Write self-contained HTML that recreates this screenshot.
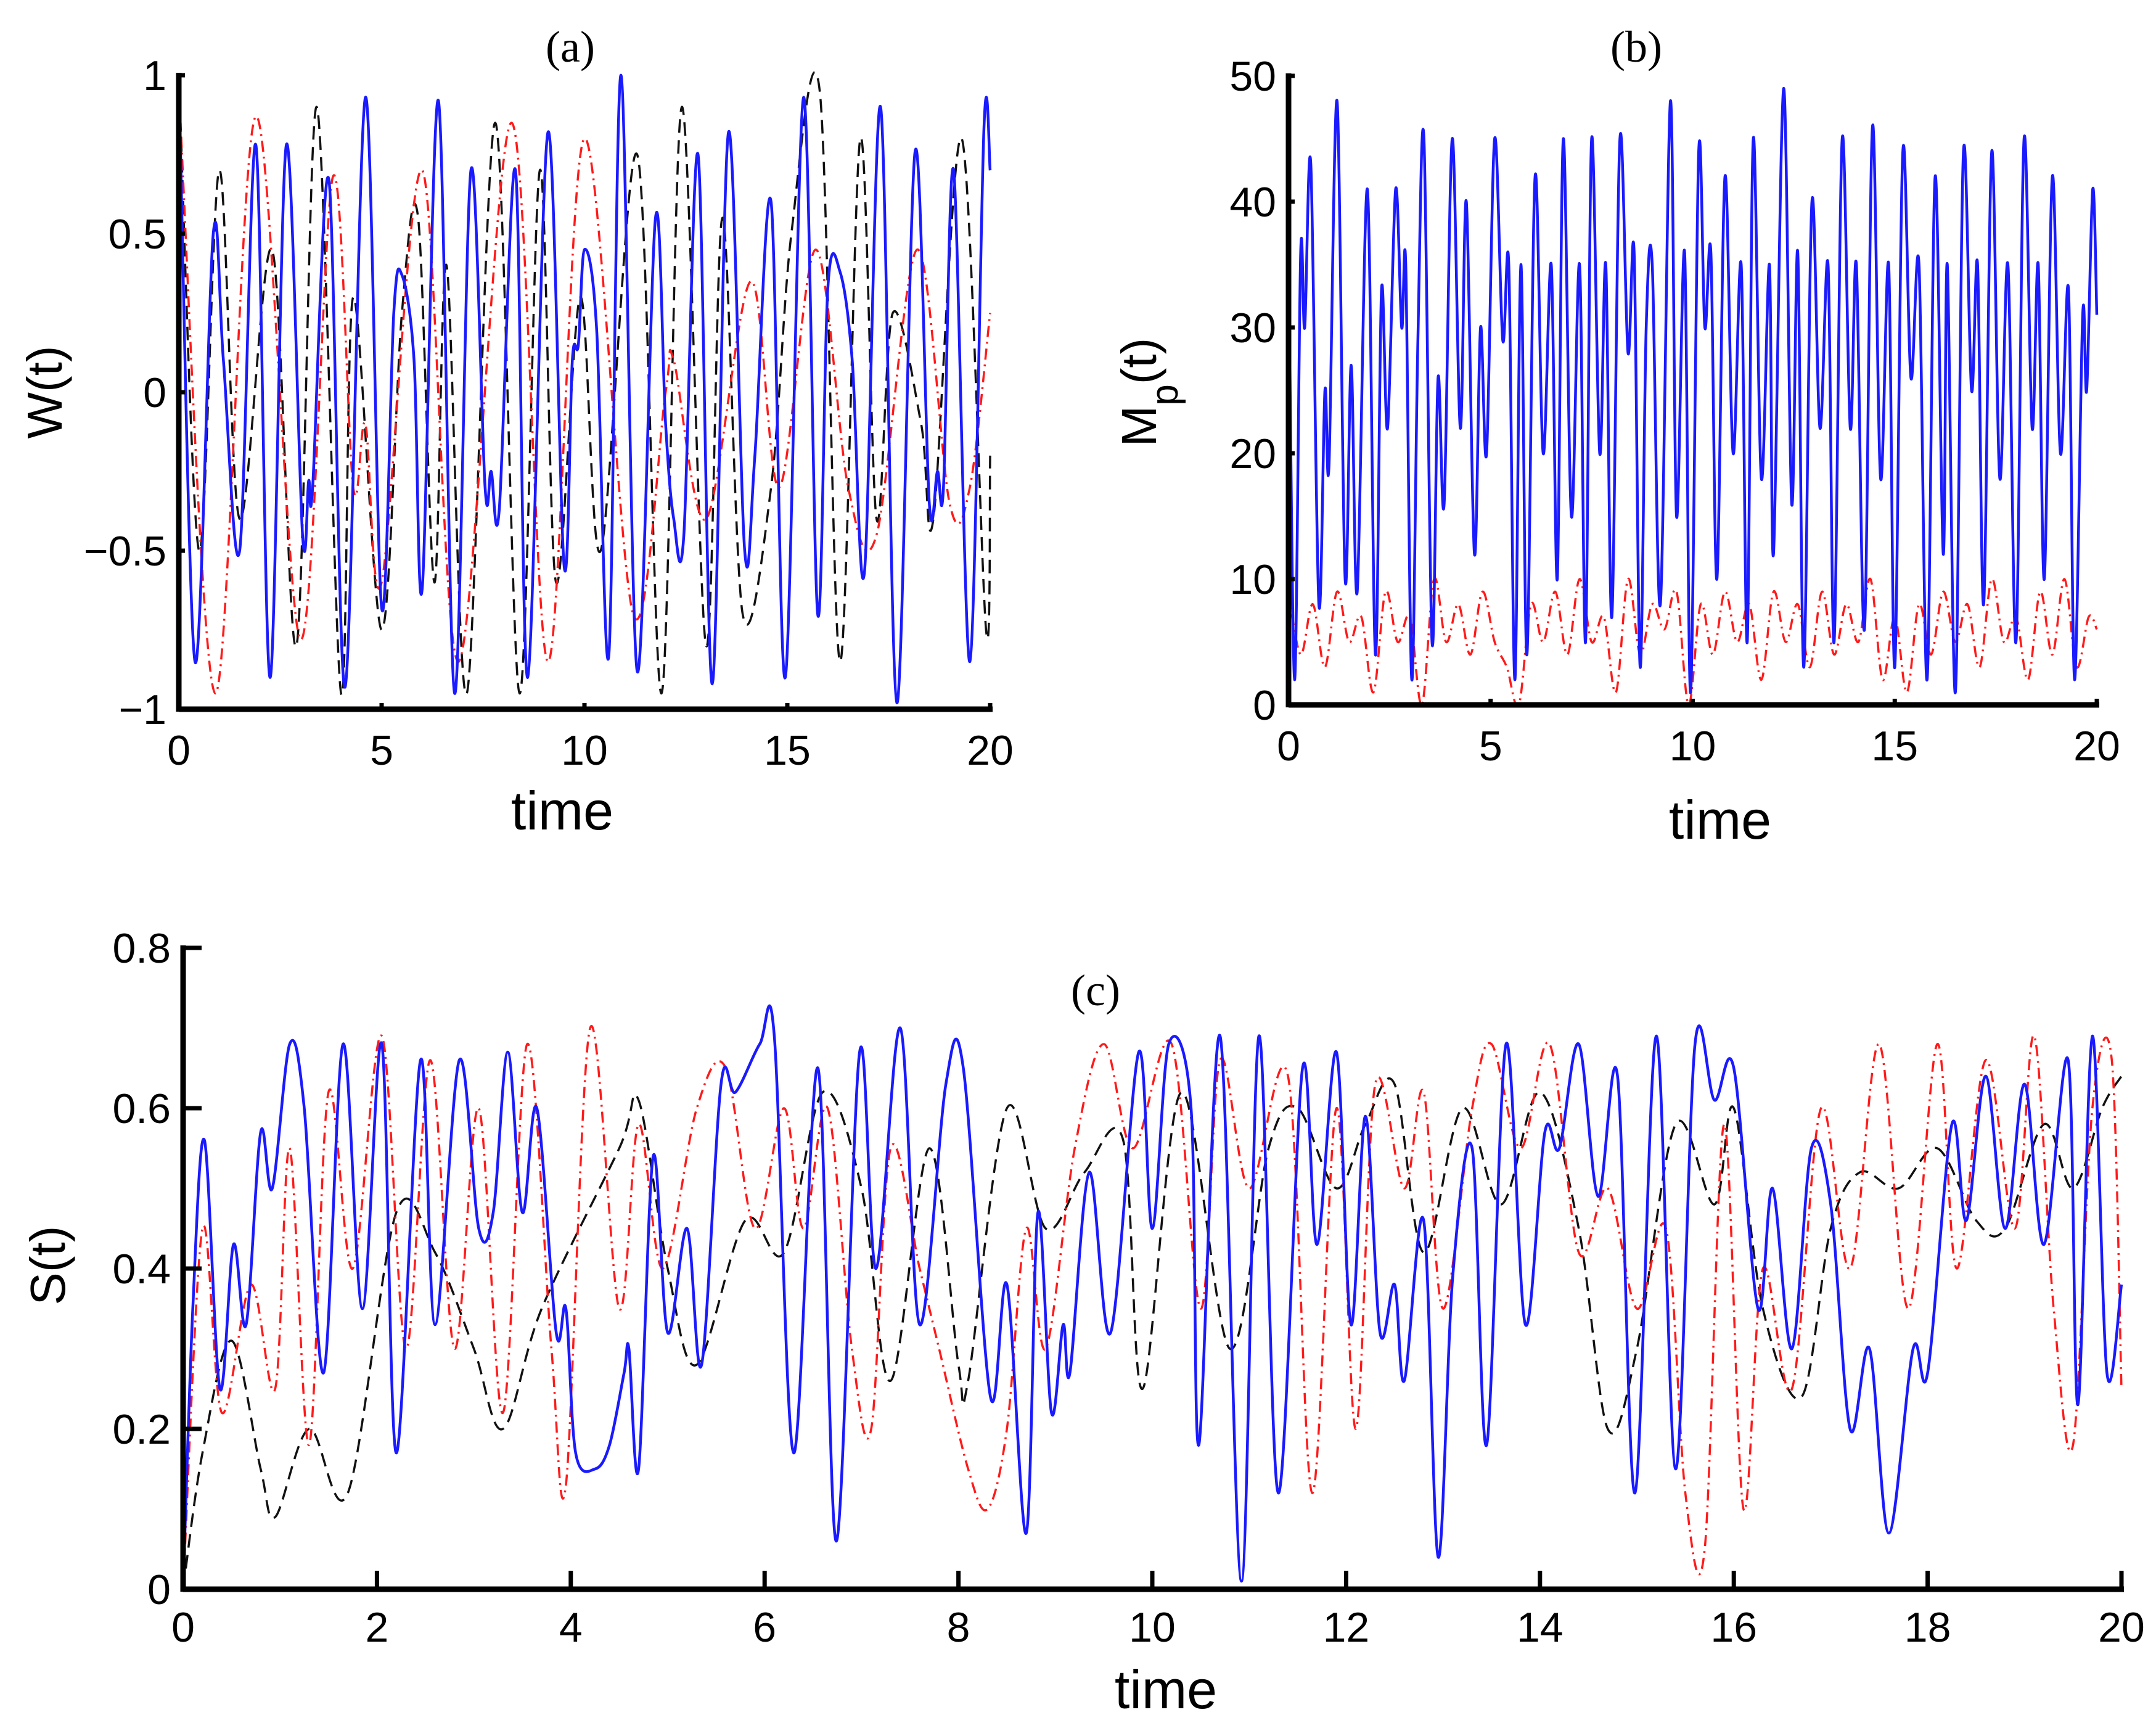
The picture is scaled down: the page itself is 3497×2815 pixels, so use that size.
<!DOCTYPE html>
<html><head><meta charset="utf-8"><style>
html,body{margin:0;padding:0;background:#fff;}
svg{display:block;}
text{font-family:"Liberation Sans",sans-serif;fill:#000;}
</style></head><body>
<svg id="fig" width="3497" height="2815" viewBox="0 0 3497 2815" xmlns="http://www.w3.org/2000/svg"></svg>
<script>
// ---------- Panel (a) data: W(t) ----------
const aBlueT=[0,0.4,0.85,1.1,1.5,1.9,2.25,2.65,3.05,3.2,3.3,3.7,4.1,4.6,5.0,5.3,5.5,5.8,6.0,6.4,6.8,7.2,7.55,7.7,7.9,8.3,8.6,9.1,9.5,9.7,9.85,10.0,10.3,10.6,10.9,11.3,11.75,12.0,12.2,12.45,12.8,13.15,13.55,13.95,14.2,14.6,14.95,15.4,15.75,16.0,16.3,16.6,16.9,17.3,17.7,18.15,18.5,18.7,18.85,19.1,19.5,19.85,20];
const aBlueV=[1.0,-0.85,0.5,0.1,-0.5,0.78,-0.9,0.78,-0.45,-0.28,-0.3,0.67,-0.93,0.93,-0.68,0.25,0.37,0.1,-0.62,0.92,-0.95,0.7,-0.3,-0.25,-0.37,0.7,-0.9,0.82,-0.55,0.1,0.15,0.45,0.2,-0.83,1.0,-0.88,0.55,-0.1,-0.4,-0.45,0.75,-0.92,0.82,-0.5,-0.2,0.6,-0.9,0.93,-0.7,0.33,0.38,0.1,-0.57,0.9,-0.98,0.76,-0.35,-0.25,-0.3,0.7,-0.85,0.84,0.7];
const aRedT=[0,0.9,1.9,3.0,3.8,4.3,4.6,5.0,6.0,6.9,8.2,9.1,10.0,11.2,12.0,12.2,13.0,14.1,14.8,15.7,16.5,17.2,18.2,19.0,19.5,20];
const aRedV=[0.95,-0.95,0.87,-0.78,0.68,-0.3,-0.1,-0.6,0.7,-0.85,0.85,-0.85,0.8,-0.7,0.0,0.1,-0.4,0.35,-0.3,0.45,-0.3,-0.45,0.45,-0.35,-0.3,0.25];
const aBlackT=[0,0.5,1.0,1.5,2.3,2.9,3.4,4.0,4.3,5.0,5.5,5.9,6.3,6.6,7.1,7.8,8.4,8.9,9.3,9.9,10.4,11.3,11.9,12.4,13.0,13.4,13.9,14.6,15.1,15.8,16.3,16.8,17.2,17.6,18.3,18.6,19.3,19.9,20];
const aBlackV=[1,-0.5,0.7,-0.4,0.45,-0.8,0.9,-0.95,0.3,-0.75,0.25,0.55,-0.6,0.4,-0.95,0.85,-0.95,0.7,-0.6,0.3,-0.5,0.75,-0.95,0.9,-0.8,0.55,-0.7,-0.3,0.5,0.95,-0.85,0.8,-0.4,0.25,-0.1,-0.4,0.8,-0.75,-0.2];
const aXTicks=[0,5,10,15,20];
const aYTicks=[-1,-0.5,0,0.5,1];
const aYTickLabels=["\u22121","\u22120.5","0","0.5","1"];

// ---------- Panel (b) data: Mp(t) ----------
const bBlueT=[0,0.15,0.3,0.4,0.55,0.75,0.9,1.0,1.2,1.4,1.55,1.7,1.95,2.15,2.3,2.45,2.65,2.8,2.9,3.05,3.2,3.35,3.55,3.7,3.85,4.05,4.25,4.4,4.6,4.75,4.9,5.1,5.3,5.45,5.6,5.75,5.9,6.1,6.3,6.5,6.65,6.8,7.0,7.2,7.35,7.5,7.7,7.85,8.0,8.2,8.4,8.55,8.7,8.85,9.0,9.2,9.45,9.6,9.8,9.95,10.15,10.3,10.45,10.6,10.8,11.0,11.2,11.35,11.5,11.7,11.9,12.0,12.25,12.45,12.6,12.75,12.95,13.15,13.35,13.5,13.7,13.9,14.05,14.25,14.45,14.65,14.85,15.0,15.2,15.4,15.6,15.8,16.0,16.2,16.3,16.5,16.7,16.9,17.05,17.2,17.4,17.6,17.8,18.0,18.2,18.4,18.55,18.7,18.9,19.1,19.3,19.45,19.65,19.75,19.9,20];
const bBlueV=[37,2,36,30,43,8,25,19,48,10,27,9,41,4,33,22,41,30,35,2,29,45,5,26,16,45,22,40,12,30,20,45,29,35,2,35,4,42,20,35,10,45,15,35,5,45,20,35,7,45,28,36,3,30,35,8,48,15,36,1,44,30,36,10,42,20,35,5,45,18,35,12,49,16,36,3,40,22,35,5,45,22,35,6,46,18,35,3,44,26,35,2,42,12,35,1,44,25,35,8,44,18,35,5,45,22,35,10,42,20,33,2,31,25,41,31];
const bRedT=[0,0.3,0.6,0.9,1.2,1.5,1.8,2.1,2.4,2.7,3.0,3.3,3.6,3.9,4.2,4.5,4.8,5.1,5.4,5.7,6.0,6.3,6.6,6.9,7.2,7.5,7.8,8.1,8.4,8.7,9.0,9.3,9.6,9.9,10.2,10.5,10.8,11.1,11.4,11.7,12.0,12.3,12.6,12.9,13.2,13.5,13.8,14.1,14.4,14.7,15.0,15.3,15.6,15.9,16.2,16.5,16.8,17.1,17.4,17.7,18.0,18.3,18.6,18.9,19.2,19.5,19.8,20];
const bRedV=[9,4,8,3,9,5,7,1,9,5,7,0,10,5,8,4,9,5,3,0,8,5,9,4,10,5,7,1,10,4,8,6,9,0,8,4,9,5,8,2,9,5,8,3,9,4,8,5,10,2,7,1,8,4,9,5,8,3,10,5,7,2,9,4,10,3,7,6];
const bXTicks=[0,5,10,15,20];
const bYTicks=[0,10,20,30,40,50];

// ---------- Panel (c) data: S(t) ----------
const cBlueT=[0,0.1,0.22,0.38,0.52,0.65,0.8,0.92,1.1,1.25,1.45,1.65,1.85,2.05,2.2,2.45,2.6,2.85,3.05,3.2,3.35,3.5,3.65,3.85,3.95,4.05,4.25,4.4,4.55,4.6,4.7,4.85,5.0,5.2,5.35,5.55,5.7,5.95,6.1,6.3,6.55,6.74,6.98,7.15,7.4,7.6,7.87,8.05,8.33,8.5,8.7,8.82,8.96,9.08,9.15,9.35,9.57,9.86,10.0,10.17,10.4,10.48,10.7,10.92,11.1,11.3,11.55,11.7,11.9,12.05,12.2,12.35,12.5,12.6,12.8,12.95,13.1,13.3,13.45,13.65,13.85,14.05,14.2,14.4,14.6,14.8,14.98,15.2,15.4,15.6,15.8,16.0,16.25,16.4,16.6,16.8,17.0,17.2,17.4,17.6,17.85,18.0,18.25,18.4,18.6,18.8,19.0,19.2,19.45,19.55,19.7,19.85,20];
const cBlueV=[0,0.35,0.56,0.25,0.43,0.33,0.57,0.5,0.68,0.6,0.27,0.68,0.35,0.68,0.17,0.66,0.33,0.66,0.45,0.47,0.67,0.47,0.6,0.32,0.35,0.17,0.15,0.18,0.27,0.3,0.15,0.54,0.32,0.45,0.28,0.63,0.62,0.68,0.69,0.17,0.65,0.06,0.67,0.4,0.7,0.33,0.63,0.65,0.24,0.38,0.07,0.47,0.22,0.33,0.27,0.52,0.32,0.67,0.45,0.68,0.6,0.18,0.69,0.01,0.69,0.12,0.65,0.43,0.67,0.33,0.59,0.32,0.38,0.26,0.46,0.04,0.39,0.55,0.18,0.68,0.33,0.57,0.55,0.68,0.49,0.64,0.12,0.69,0.15,0.68,0.61,0.65,0.35,0.5,0.3,0.55,0.48,0.2,0.3,0.07,0.3,0.27,0.58,0.46,0.64,0.45,0.63,0.43,0.66,0.23,0.69,0.27,0.38];
const cRedT=[0,0.2,0.4,0.7,0.95,1.1,1.3,1.5,1.75,2.05,2.3,2.55,2.8,3.05,3.3,3.55,3.8,3.95,4.2,4.5,4.7,4.95,5.3,5.6,5.9,6.2,6.4,6.65,6.9,7.1,7.3,7.6,7.8,8.1,8.3,8.5,8.7,8.9,9.2,9.5,9.8,10.2,10.5,10.7,11.0,11.4,11.65,11.9,12.1,12.3,12.6,12.8,13.0,13.3,13.5,13.8,14.1,14.4,14.7,15.0,15.3,15.5,15.7,15.9,16.1,16.3,16.6,16.9,17.2,17.5,17.8,18.1,18.3,18.6,18.9,19.1,19.3,19.5,19.7,19.9,20];
const cRedV=[0,0.45,0.22,0.38,0.25,0.55,0.18,0.62,0.4,0.69,0.3,0.66,0.3,0.6,0.22,0.68,0.3,0.13,0.7,0.35,0.58,0.4,0.6,0.65,0.45,0.6,0.45,0.6,0.3,0.2,0.55,0.4,0.3,0.15,0.1,0.2,0.45,0.3,0.55,0.68,0.55,0.68,0.35,0.66,0.5,0.64,0.12,0.6,0.2,0.63,0.5,0.62,0.35,0.6,0.68,0.55,0.68,0.42,0.5,0.35,0.45,0.12,0.05,0.58,0.1,0.4,0.25,0.6,0.4,0.68,0.35,0.68,0.4,0.66,0.45,0.69,0.35,0.18,0.6,0.66,0.25];
const cBlackT=[0,0.2,0.5,0.8,0.95,1.3,1.7,2.2,2.6,3.0,3.3,3.7,4.5,4.7,5.0,5.3,5.8,6.2,6.6,7.0,7.3,7.7,8.0,8.1,8.5,8.9,9.3,9.7,9.9,10.3,10.8,11.2,11.5,11.9,12.2,12.5,12.8,13.2,13.6,14.0,14.4,14.7,15.0,15.4,15.8,16.0,16.3,16.7,17.0,17.3,17.7,18.1,18.5,18.8,19.2,19.5,19.8,20];
const cBlackV=[0,0.17,0.31,0.15,0.09,0.2,0.12,0.47,0.42,0.3,0.2,0.35,0.55,0.61,0.4,0.28,0.46,0.42,0.62,0.5,0.26,0.55,0.28,0.26,0.6,0.45,0.52,0.56,0.25,0.62,0.3,0.55,0.6,0.5,0.58,0.63,0.42,0.6,0.48,0.62,0.45,0.2,0.3,0.58,0.48,0.6,0.35,0.24,0.45,0.52,0.5,0.55,0.46,0.45,0.58,0.5,0.6,0.64];
const cXTicks=[0,2,4,6,8,10,12,14,16,18,20];
const cYTicks=[0,0.2,0.4,0.6,0.8];

const NS="http://www.w3.org/2000/svg";
const svg=document.getElementById('fig');
function mk(tag,attrs,parent){const e=document.createElementNS(NS,tag);for(const k in attrs)e.setAttribute(k,attrs[k]);(parent||svg).appendChild(e);return e;}
function lin(d0,d1,r0,r1){return v=>r0+(v-d0)/(d1-d0)*(r1-r0);}
function smoothPath(xs,ys){
  let d=`M${xs[0].toFixed(1)},${ys[0].toFixed(1)}`;
  for(let i=0;i<xs.length-1;i++){
    const x0=xs[Math.max(0,i-1)],y0=ys[Math.max(0,i-1)],x1=xs[i],y1=ys[i],x2=xs[i+1],y2=ys[i+1],x3=xs[Math.min(xs.length-1,i+2)],y3=ys[Math.min(xs.length-1,i+2)];
    const c1x=x1+(x2-x0)/6,c1y=y1+(y2-y0)/6,c2x=x2-(x3-x1)/6,c2y=y2-(y3-y1)/6;
    d+=`C${c1x.toFixed(1)},${c1y.toFixed(1)} ${c2x.toFixed(1)},${c2y.toFixed(1)} ${x2.toFixed(1)},${y2.toFixed(1)}`;
  }
  return d;
}
function series(g,T,V,sx,sy,style,name){
  const p=mk('path',Object.assign({d:smoothPath(T.map(sx),V.map(sy)),fill:'none','stroke-linejoin':'round'},style),g);
  
  
}
const RED={stroke:'#ff1a1a','stroke-width':3.5,'stroke-dasharray':'18 8 3 8'};
const BLK={stroke:'#111','stroke-width':3.5,'stroke-dasharray':'22 12'};
const BLU={stroke:'#1a1aff','stroke-width':4.5};

function panel(o){
  const g=mk('g',{});
  
  
  const sx=lin(o.xd[0],o.xd[1],o.x0,o.x1), sy=lin(o.yd[0],o.yd[1],o.y0,o.y1);
  const clip=mk('clipPath',{id:o.name+'-clip'},g);
  mk('rect',{x:o.x0,y:o.y1-10,width:o.x1-o.x0+6,height:o.y0-o.y1+14},clip);
  const sg=mk('g',{'clip-path':`url(#${o.name}-clip)`},g);
  o.draw(sg,sx,sy);
  const ax=mk('line',{x1:o.x0,y1:o.y0,x2:o.x1+4,y2:o.y0,stroke:'#000','stroke-width':9},g);
  
  
  const ay=mk('line',{x1:o.x0,y1:o.y0+4,x2:o.x0,y2:o.y1-4,stroke:'#000','stroke-width':9},g);
  
  
  o.xt.forEach(v=>{
    const x=sx(v);
    const tk=mk('line',{x1:x,y1:o.y0,x2:x,y2:o.y0-o.tl,stroke:'#000','stroke-width':7},g);
    
    
    const t=mk('text',{x:x,y:o.y0+o.xly,'text-anchor':'middle','font-size':o.fs},g);
    t.textContent=String(v);
    
    
  });
  o.yt.forEach((v,i)=>{
    const y=sy(v);
    const tk=mk('line',{x1:o.x0,y1:y,x2:o.x0+o.tl,y2:y,stroke:'#000','stroke-width':7},g);
    
    
    const t=mk('text',{x:o.x0-20,y:y+24,'text-anchor':'end','font-size':o.fs},g);
    t.textContent=o.ytl?o.ytl[i]:String(v);
    
    
  });
  const xl=mk('text',{x:o.xlab[0],y:o.xlab[1],'text-anchor':'middle','font-size':88},g);
  xl.textContent='time';
  
  
  const yl=mk('text',{x:0,y:0,'text-anchor':'middle','font-size':80,transform:`translate(${o.ylab[0]},${o.ylab[1]}) rotate(-90)`},g);
  yl.innerHTML=o.ytitle;
  
  
  const pt=mk('text',{x:o.pl[0],y:o.pl[1],'text-anchor':'middle','font-size':72,style:'font-family:"Liberation Serif",serif'},g);
  pt.textContent=o.plabel;
  
  
}

panel({name:'panel-a',x0:290,x1:1606,y0:1150,y1:122,xd:[0,20],yd:[-1,1],xt:aXTicks,yt:aYTicks,ytl:aYTickLabels,tl:10,fs:68,xly:90,
  xlab:[912,1345],ylab:[100,636],ytitle:'W(t)',pl:[925,100],plabel:'(a)',
  draw:(g,sx,sy)=>{series(g,aBlackT,aBlackV,sx,sy,BLK,'black-dashed-line');series(g,aRedT,aRedV,sx,sy,RED,'red-dashdot-line');series(g,aBlueT,aBlueV,sx,sy,BLU,'blue-solid-line');}});
panel({name:'panel-b',x0:2090,x1:3401,y0:1143,y1:123,xd:[0,20],yd:[0,50],xt:bXTicks,yt:bYTicks,tl:10,fs:68,xly:90,
  xlab:[2790,1360],ylab:[1875,636],ytitle:'M<tspan baseline-shift="sub" font-size="62">p</tspan>(t)',pl:[2654,100],plabel:'(b)',
  draw:(g,sx,sy)=>{series(g,bRedT,bRedV,sx,sy,RED,'red-dashdot-line');series(g,bBlueT,bBlueV,sx,sy,BLU,'blue-solid-line');}});
panel({name:'panel-c',x0:297,x1:3441,y0:2577,y1:1537,xd:[0,20],yd:[0,0.8],xt:cXTicks,yt:cYTicks,tl:30,fs:68,xly:85,
  xlab:[1891,2770],ylab:[105,2052],ytitle:'S(t)',pl:[1777,1630],plabel:'(c)',
  draw:(g,sx,sy)=>{series(g,cBlackT,cBlackV,sx,sy,BLK,'black-dashed-line');series(g,cRedT,cRedV,sx,sy,RED,'red-dashdot-line');series(g,cBlueT,cBlueV,sx,sy,BLU,'blue-solid-line');}});
</script>
</body></html>
